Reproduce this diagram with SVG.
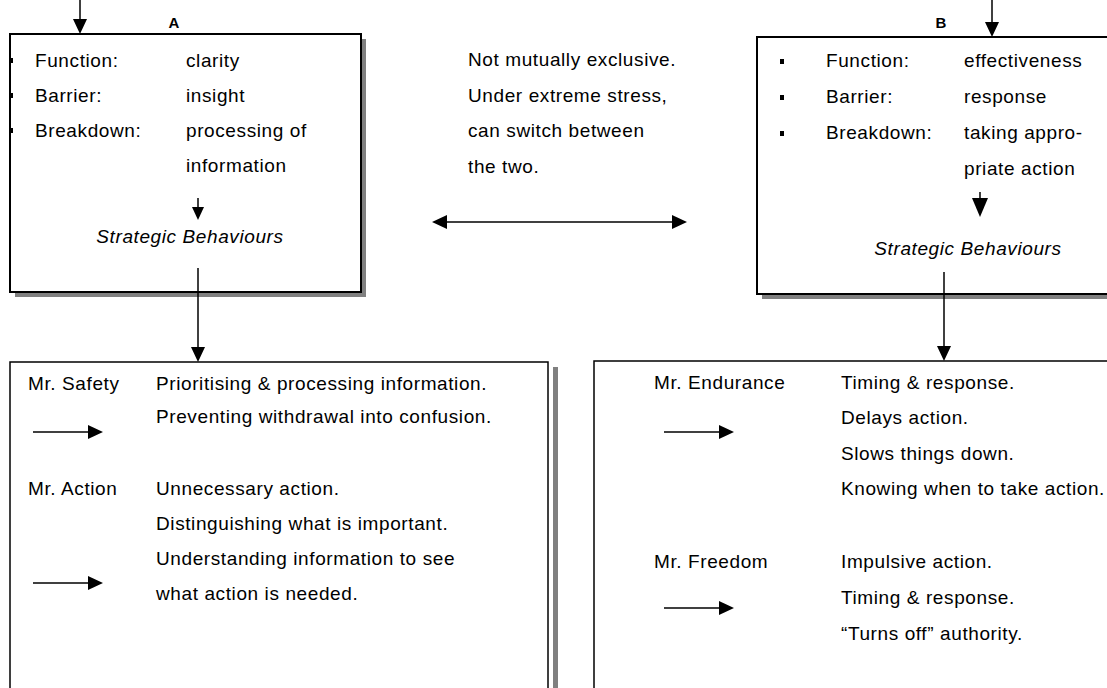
<svg xmlns="http://www.w3.org/2000/svg" width="1107" height="688" viewBox="0 0 1107 688">
<style>
  text { font-family: "Liberation Sans", Arial, sans-serif; font-size: 19px; letter-spacing: 0.6px; fill: #000; }
  .lbl { font-weight: bold; font-size: 15px; letter-spacing: 0; }
  .it { font-style: italic; }
  .box { fill: #fff; stroke: #000; stroke-width: 2; }
  .box2 { fill: #fff; stroke: #000; stroke-width: 1.5; }
  .shadow { fill: #808080; }
  .ln { stroke: #000; stroke-width: 1.5; fill: none; }
  .ah { fill: #000; }
</style>
<rect width="1107" height="688" fill="#fff"/>

<g id="nodeA">
  <rect class="shadow" x="15" y="39" width="351" height="258"/>
  <rect class="box" x="10" y="34" width="351" height="258"/>
  <text class="lbl" x="174" y="28" text-anchor="middle">A</text>
  <rect x="9" y="58" width="4" height="5"/>
  <rect x="9" y="93" width="4" height="5"/>
  <rect x="9" y="128" width="4" height="5"/>
  <text x="35" y="67">Function:</text><text x="186" y="67">clarity</text>
  <text x="35" y="102">Barrier:</text><text x="186" y="102">insight</text>
  <text x="35" y="137">Breakdown:</text><text x="186" y="137">processing of</text>
  <text x="186" y="172">information</text>
  <line class="ln" x1="198" y1="198" x2="198" y2="208"/>
  <polygon class="ah" points="192,207 204,207 198,220"/>
  <text class="it" x="190" y="243" text-anchor="middle">Strategic Behaviours</text>
</g>

<g id="nodeB">
  <rect class="shadow" x="762" y="42" width="360" height="257"/>
  <rect class="box" x="757" y="37" width="360" height="257"/>
  <text class="lbl" x="941" y="28" text-anchor="middle">B</text>
  <rect x="780" y="59" width="4" height="5"/>
  <rect x="780" y="95" width="4" height="5"/>
  <rect x="780" y="131" width="4" height="5"/>
  <text x="826" y="67">Function:</text><text x="964" y="67">effectiveness</text>
  <text x="826" y="103">Barrier:</text><text x="964" y="103">response</text>
  <text x="826" y="139">Breakdown:</text><text x="964" y="139">taking appro-</text>
  <text x="964" y="175">priate action</text>
  <line class="ln" x1="980" y1="192" x2="980" y2="199"/>
  <polygon class="ah" points="972,198 988,198 980,217"/>
  <text class="it" x="968" y="255" text-anchor="middle">Strategic Behaviours</text>
</g>

<g id="note">
  <text x="468" y="66">Not mutually exclusive.</text>
  <text x="468" y="102">Under extreme stress,</text>
  <text x="468" y="137">can switch between</text>
  <text x="468" y="173">the two.</text>
</g>

<g id="nodeC">
  <rect class="shadow" x="553" y="367" width="5" height="330"/>
  <rect class="box2" x="10" y="362" width="538" height="340"/>
  <text x="28" y="390">Mr. Safety</text>
  <text x="156" y="390">Prioritising &amp; processing information.</text>
  <text x="156" y="423">Preventing withdrawal into confusion.</text>
  <line class="ln" x1="33" y1="432" x2="90" y2="432"/>
  <polygon class="ah" points="88,425 103,432 88,439"/>
  <text x="28" y="495">Mr. Action</text>
  <text x="156" y="495">Unnecessary action.</text>
  <text x="156" y="530">Distinguishing what is important.</text>
  <text x="156" y="565">Understanding information to see</text>
  <line class="ln" x1="33" y1="583" x2="90" y2="583"/>
  <polygon class="ah" points="88,576 103,583 88,590"/>
  <text x="156" y="600">what action is needed.</text>
</g>

<g id="nodeD">
  <rect class="box2" x="594" y="361" width="530" height="340"/>
  <text x="654" y="389">Mr. Endurance</text>
  <text x="841" y="389">Timing &amp; response.</text>
  <text x="841" y="424">Delays action.</text>
  <line class="ln" x1="664" y1="432" x2="721" y2="432"/>
  <polygon class="ah" points="719,425 734,432 719,439"/>
  <text x="841" y="460">Slows things down.</text>
  <text x="841" y="495">Knowing when to take action.</text>
  <text x="654" y="568">Mr. Freedom</text>
  <text x="841" y="568">Impulsive action.</text>
  <line class="ln" x1="664" y1="608" x2="721" y2="608"/>
  <polygon class="ah" points="719,601 734,608 719,615"/>
  <text x="841" y="604">Timing &amp; response.</text>
  <text x="841" y="640">“Turns off” authority.</text>
</g>

<g id="connectors">
  <line class="ln" x1="80" y1="0" x2="80" y2="20"/>
  <polygon class="ah" points="73,19 87,19 80,34"/>
  <line class="ln" x1="992" y1="0" x2="992" y2="23"/>
  <polygon class="ah" points="985,22 999,22 992,37"/>
  <line class="ln" x1="198" y1="268" x2="198" y2="348"/>
  <polygon class="ah" points="191,347 205,347 198,362"/>
  <line class="ln" x1="944" y1="272" x2="944" y2="347"/>
  <polygon class="ah" points="937,346 951,346 944,361"/>
  <line class="ln" x1="445" y1="222" x2="674" y2="222"/>
  <polygon class="ah" points="447,215 432,222 447,229"/>
  <polygon class="ah" points="672,215 687,222 672,229"/>
</g>
</svg>
